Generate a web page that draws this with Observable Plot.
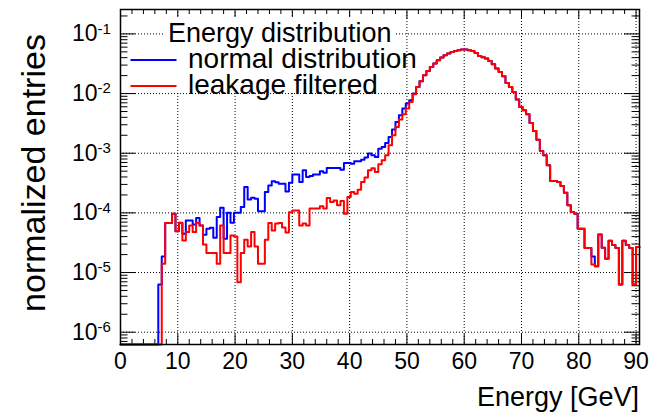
<!DOCTYPE html>
<html><head><meta charset="utf-8">
<script src="https://cdn.jsdelivr.net/npm/d3@7"></script>
<script src="https://cdn.jsdelivr.net/npm/@observablehq/plot@0.6"></script>
<style>
html,body{margin:0;padding:0;background:#fff;}
#chart{width:652px;height:414px;}
</style>
</head><body><div id="chart"></div>
<script>
// ---- data (bin width 0.6 GeV, 151 bins from 0 to 90.6 GeV) ----
const binWidth = 0.6;
const xMax = 90.6;
const normalDistribution = [
 0,0,0,0,0,0,0,0,0,0,0,
 6.3e-6,1.86e-5,6.75e-5,6.75e-5,9.7e-5,4.9e-5,6.85e-5,4.48e-5,7.48e-5,7.48e-5,
 6.41e-5,8.18e-5,6.17e-5,4.31e-5,5.43e-5,5.64e-5,3.84e-5,8.5e-5,1.22e-4,3.69e-5,
 1.01e-4,6.85e-5,1.01e-4,1.01e-4,1.25e-4,2.71e-4,1.68e-4,1.80e-4,1.73e-4,1.07e-4,
 1.07e-4,2.23e-4,2.89e-4,3.38e-4,3.25e-4,3.09e-4,3.09e-4,2.29e-4,3.21e-4,4.38e-4,
 4.38e-4,3.29e-4,5.16e-4,3.99e-4,4.14e-4,4.38e-4,4.38e-4,4.97e-4,4.73e-4,5.64e-4,
 5.64e-4,5.64e-4,5.64e-4,5.31e-4,6.85e-4,6.85e-4,6.69e-4,7.31e-4,7.31e-4,7.81e-4,
 8.44e-4,9.85e-4,9.22e-4,8.63e-4,1.19e-3,1.27e-3,1.48e-3,1.87e-3,2.49e-3,3.34e-3,
 4.32e-3,5.60e-3,6.80e-3,7.72e-3,1.00e-2,1.29e-2,1.61e-2,2.03e-2,2.39e-2,2.79e-2,
 3.19e-2,3.62e-2,4.02e-2,4.39e-2,4.69e-2,4.99e-2,5.19e-2,5.33e-2,5.47e-2,5.47e-2,
 5.33e-2,5.19e-2,4.80e-2,4.27e-2,4.06e-2,3.87e-2,3.52e-2,3.10e-2,2.63e-2,2.30e-2,
 1.95e-2,1.51e-2,1.29e-2,1.06e-2,7.93e-3,5.96e-3,5.25e-3,4.49e-3,3.21e-3,2.36e-3,
 1.69e-3,1.09e-3,9.22e-4,6.26e-4,3.42e-4,3.42e-4,3.29e-4,2.82e-4,2.18e-4,1.34e-4,
 1.03e-4,9.7e-5,5.43e-5,5.43e-5,2.57e-5,2.57e-5,1.86e-5,1.28e-5,4.36e-5,2.61e-5,
 1.7e-5,3.4e-5,2.9e-5,2.57e-5,6.3e-6,3.4e-5,2.9e-5,2.57e-5,6.3e-6,2.67e-5
];
const leakageFiltered = [
 0,0,0,0,0,0,0,0,0,0,0,
 0,1.40e-5,6.75e-5,6.75e-5,9.7e-5,4.9e-5,6.75e-5,3.46e-5,4.76e-5,6.17e-5,
 4.76e-5,6.85e-5,6.17e-5,2.96e-5,2.12e-5,2.12e-5,2.12e-5,1.40e-5,6.17e-5,2.12e-5,
 2.12e-5,4.19e-5,4.03e-5,6.9e-6,2.12e-5,3.55e-5,2.74e-5,4.76e-5,2.74e-5,1.40e-5,
 1.40e-5,3.55e-5,6.75e-5,5.09e-5,6.66e-5,6.75e-5,5.71e-5,4.71e-5,1.02e-4,1.10e-4,
 1.10e-4,6.17e-5,6.66e-5,6.17e-5,1.18e-4,1.18e-4,1.18e-4,1.29e-4,1.18e-4,1.77e-4,
 1.52e-4,1.62e-4,1.34e-4,1.58e-4,9.7e-5,1.84e-4,2.23e-4,2.10e-4,2.45e-4,3.29e-4,
 3.90e-4,5.16e-4,5.58e-4,4.84e-4,6.51e-4,7.60e-4,9.22e-4,1.36e-3,2.00e-3,2.75e-3,
 3.66e-3,4.49e-3,5.60e-3,7.23e-3,9.73e-3,1.29e-2,1.61e-2,2.03e-2,2.39e-2,2.79e-2,
 3.19e-2,3.62e-2,4.02e-2,4.39e-2,4.69e-2,4.99e-2,5.19e-2,5.33e-2,5.47e-2,5.47e-2,
 5.33e-2,5.19e-2,4.80e-2,4.27e-2,4.06e-2,3.87e-2,3.52e-2,3.10e-2,2.63e-2,2.30e-2,
 1.95e-2,1.51e-2,1.29e-2,1.06e-2,7.93e-3,5.96e-3,5.25e-3,4.49e-3,3.21e-3,2.36e-3,
 1.69e-3,1.09e-3,9.22e-4,6.26e-4,3.42e-4,3.42e-4,3.29e-4,2.82e-4,2.18e-4,1.34e-4,
 1.03e-4,9.7e-5,5.43e-5,5.43e-5,2.57e-5,2.57e-5,1.37e-5,1.28e-5,4.36e-5,2.61e-5,
 1.7e-5,3.4e-5,2.9e-5,2.57e-5,6.3e-6,3.4e-5,2.9e-5,2.57e-5,6.3e-6,2.67e-5
];
const xTickLabels = [0,10,20,30,40,50,60,70,80,90];
const yDecades = [1e-6,1e-5,1e-4,1e-3,1e-2,1e-1];
const yMin = 6.22e-7, yMax = 0.2566;
const legendTitle = "Energy distribution";
const seriesNames = ["normal distribution", "leakage filtered"];
const seriesColors = ["#0000ff", "#ff0000"];
const xTitle = "Energy [GeV]";
const yTitle = "normalized entries";

// ---- helpers ----
const FONT = "'Liberation Sans', Arial, Helvetica, sans-serif";
const W = 652, H = 414, mL = 120, mR = 13, mT = 9, mB = 70;
const frameW = W - mL - mR, frameH = H - mT - mB;
function steps(values) {
  const pts = values.map((v, i) => ({x: i * binWidth, v}));
  pts.push({x: values.length * binWidth, v: values[values.length - 1]});
  return pts;
}
const yOf = d => (d.v > 0 ? d.v : yMin);
const xMinor = d3.range(0, xMax, 2).filter(v => v % 10 !== 0);
const yMinor = [];
for (let e = -7; e <= -1; e++) for (let k = 2; k <= 9; k++) {
  const v = k * Math.pow(10, e);
  if (v > yMin && v < yMax) yMinor.push(v);
}
const gridStyle = {stroke: "#000", strokeWidth: 1, strokeDasharray: "1,2"};
const tickStyle = {stroke: "#000", strokeWidth: 1};

const plot = Plot.plot({
  width: W, height: H,
  marginLeft: mL, marginRight: mR, marginTop: mT, marginBottom: mB,
  style: {fontFamily: FONT, background: "#fff", color: "#000"},
  x: {domain: [0, xMax], axis: null},
  y: {type: "log", domain: [yMin, yMax], axis: null, clamp: true},
  marks: [
    Plot.ruleX(xTickLabels.filter(v => v > 0), gridStyle),
    Plot.ruleY(yDecades, gridStyle),
    Plot.ruleX(xTickLabels, {...tickStyle, insetTop: frameH - 10}),
    Plot.ruleX(xTickLabels, {...tickStyle, insetBottom: frameH - 10}),
    Plot.ruleX(xMinor, {...tickStyle, insetTop: frameH - 5}),
    Plot.ruleX(xMinor, {...tickStyle, insetBottom: frameH - 5}),
    Plot.ruleY(yDecades, {...tickStyle, insetRight: frameW - 15}),
    Plot.ruleY(yDecades, {...tickStyle, insetLeft: frameW - 15}),
    Plot.ruleY(yMinor, {...tickStyle, insetRight: frameW - 7.5}),
    Plot.ruleY(yMinor, {...tickStyle, insetLeft: frameW - 7.5}),
    Plot.line(steps(normalDistribution), {x: "x", y: yOf, curve: "step-after", stroke: seriesColors[0], strokeWidth: 2}),
    Plot.line(steps(leakageFiltered), {x: "x", y: yOf, curve: "step-after", stroke: seriesColors[1], strokeWidth: 2}),
    Plot.frame({stroke: "#000", strokeWidth: 1.5}),
    Plot.text(xTickLabels, {x: d => d, frameAnchor: "bottom", lineAnchor: "top", dy: 8, fontSize: 23, text: d => String(d)}),
    Plot.text(yDecades, {y: d => d, frameAnchor: "left", textAnchor: "end", dx: -23, fontSize: 23, text: () => "10"}),
    Plot.text(yDecades, {y: d => d, frameAnchor: "left", textAnchor: "start", dx: -23, dy: -5, fontSize: 15, text: d => String(Math.round(Math.log10(d)))})
  ]
});
document.getElementById("chart").appendChild(plot);

// ---- titles and legend ----
const svg = d3.select(plot);
svg.append("text").attr("x", W - mR).attr("y", 406).attr("text-anchor", "end")
  .attr("font-family", FONT).attr("font-size", 27).attr("fill", "#000").text(xTitle);
svg.append("text").attr("transform", "translate(45,173) rotate(-90)").attr("text-anchor", "middle")
  .attr("font-family", FONT).attr("font-size", 34).attr("fill", "#000").text(yTitle);
const lg = svg.append("g").attr("font-family", FONT).attr("fill", "#000").attr("text-anchor", "start");
lg.append("rect").attr("x", 163).attr("y", 17).attr("width", 232).attr("height", 75).attr("fill", "#fff");
lg.append("text").attr("x", 168).attr("y", 41.5).attr("font-size", 27).attr("text-anchor", "start").text(legendTitle);
seriesNames.forEach((name, i) => {
  const yy = 60 + 26 * i;
  lg.append("line").attr("x1", 130.5).attr("x2", 176.5).attr("y1", yy).attr("y2", yy)
    .attr("stroke", seriesColors[i]).attr("stroke-width", 2);
  lg.append("text").attr("x", 188).attr("y", yy + 8.3).attr("font-size", 28).attr("text-anchor", "start").text(name);
});
</script>
</body></html>
